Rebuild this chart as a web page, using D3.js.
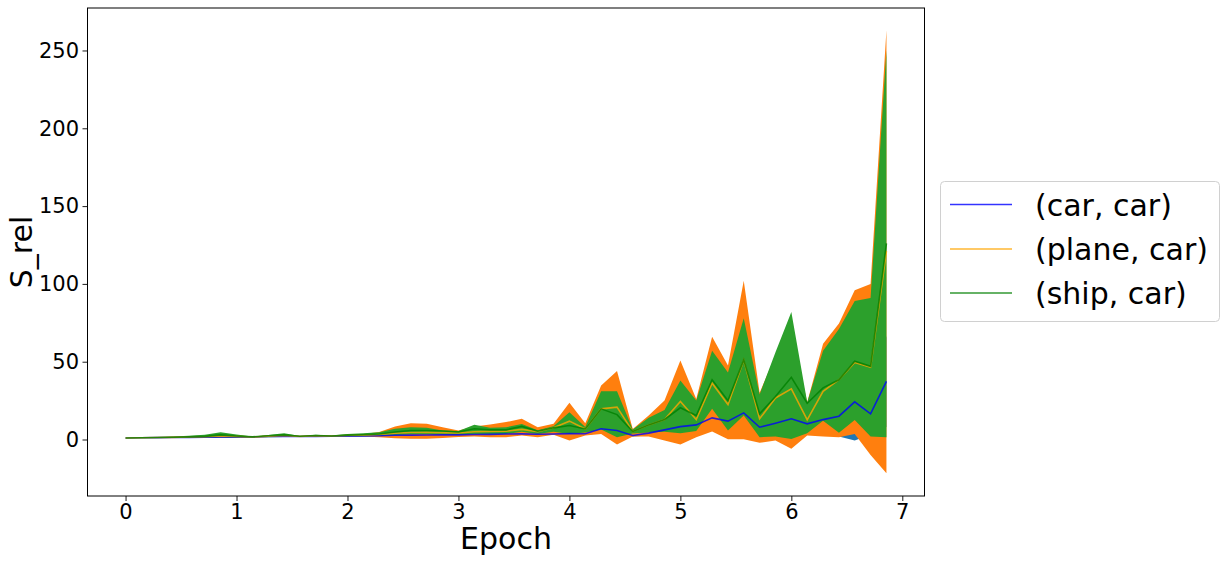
<!DOCTYPE html>
<html>
<head>
<meta charset="utf-8">
<script src="https://d3js.org/d3.v7.min.js"></script>
<style>
  body { margin: 0; background: #fff; }
  text { font-family: "DejaVu Sans", sans-serif; }
</style>
</head>
<body>
<script>
// epochs (7 measurements per epoch)
var epochs = [0, 0.143, 0.286, 0.429, 0.571, 0.714, 0.857,
              1, 1.143, 1.286, 1.429, 1.571, 1.714, 1.857,
              2, 2.143, 2.286, 2.429, 2.571, 2.714, 2.857,
              3, 3.143, 3.286, 3.429, 3.571, 3.714, 3.857,
              4, 4.143, 4.286, 4.429, 4.571, 4.714, 4.857,
              5, 5.143, 5.286, 5.429, 5.571, 5.714, 5.857,
              6, 6.143, 6.286, 6.429, 6.571, 6.714, 6.857];

// (car, car)
var carMean = [1.0, 1.1, 1.2, 1.3, 1.4, 1.5, 1.6,
               1.7, 1.6, 1.9, 2.0, 1.9, 2.0, 2.1,
               2.2, 2.3, 2.5, 2.7, 2.8, 2.9, 3.0,
               3.0, 3.2, 3.3, 3.5, 3.6, 3.4, 3.5,
               3.8, 3.7, 6.9, 5.8, 2.6, 4.1, 6.2,
               8.3, 9.4, 13.9, 11.8, 17.1, 7.9, 10.5,
               13.3, 10.1, 12.8, 15.0, 24.2, 16.5, 37.3];
var carLow = [1.0, 1.05, 1.1, 1.15, 1.2, 1.3, 1.4,
              1.5, 1.45, 1.7, 1.85, 1.75, 1.9, 2.0,
              2.1, 2.1, 2.2, 2.3, 2.4, 2.5, 2.6,
              2.6, 2.8, 2.9, 3.0, 3.0, 2.9, 3.1,
              3.0, 3.0, 4.0, 3.0, 2.0, 2.5, 3.0,
              3.0, 4.0, 6.0, 4.0, 6.0, 2.0, 3.0,
              2.0, 3.0, 4.0, 2.0, -0.6, 3.0, 8.0];
var carHigh = [1.0, 1.15, 1.3, 1.45, 1.6, 1.7, 1.8,
               1.9, 1.75, 2.1, 2.2, 2.05, 2.2, 2.3,
               2.4, 2.5, 2.8, 3.1, 3.2, 3.3, 3.4,
               3.4, 3.6, 3.7, 4.0, 4.2, 3.9, 3.9,
               4.6, 4.4, 9.0, 8.6, 3.2, 5.7, 9.4,
               13.6, 14.8, 21.8, 19.6, 28.2, 13.8, 18.0,
               24.6, 17.2, 21.6, 28.0, 49.0, 30.0, 66.6];

// (plane, car)
var planeMean = [1.0, 1.1, 1.3, 1.4, 1.6, 1.8, 2.3,
                 2.0, 1.6, 2.2, 2.6, 2.0, 2.4, 2.3,
                 2.6, 2.8, 3.2, 4.0, 4.5, 4.6, 4.4,
                 4.2, 5.0, 5.2, 5.3, 6.5, 5.0, 7.5,
                 11.8, 6.8, 19.7, 20.8, 5.1, 9.4, 12.9,
                 24.4, 12.9, 36.2, 22.5, 51.0, 13.3, 26.7,
                 32.6, 12.6, 31.0, 38.4, 49.5, 46.5, 121.0];
var planeLow = [1.0, 1.0, 1.0, 1.0, 1.1, 1.1, 1.1,
                1.2, 1.4, 1.6, 1.8, 1.7, 1.9, 2.0,
                2.1, 2.0, 1.5, 0.8, 0.5, 0.5, 1.0,
                1.6, 2.0, 1.5, 1.5, 2.6, 1.5, 3.0,
                -0.6, 2.6, 3.5, -3.2, 1.9, 1.9, -0.6,
                -3.2, 1.5, 5.1, 0.1, 0.1, -2.1, -0.6,
                -6.0, 2.6, 2.0, 1.5, 3.5, -10.0, -21.6];
var planeHigh = [1.0, 1.2, 1.5, 1.8, 2.1, 2.5, 3.5,
                 2.8, 1.8, 2.6, 3.2, 2.1, 2.8, 2.4,
                 3.0, 3.6, 4.8, 8.4, 10.5, 10.1, 7.9,
                 5.8, 8.4, 9.7, 11.2, 13.3, 7.9, 10.1,
                 23.6, 10.5, 34.7, 44.0, 6.8, 15.4, 25.0,
                 50.8, 26.0, 66.0, 47.6, 102.0, 30.0, 54.0,
                 70.0, 24.0, 61.5, 74.5, 96.0, 100.0, 263.0];

// (ship, car)
var shipMean = [1.0, 1.15, 1.3, 1.5, 1.7, 2.0, 3.0,
                2.3, 1.7, 2.4, 3.0, 2.1, 2.6, 2.3,
                2.8, 3.1, 3.5, 4.8, 5.8, 5.8, 5.5,
                4.8, 6.9, 6.2, 6.2, 8.4, 5.3, 7.5,
                9.0, 6.8, 19.7, 16.0, 5.1, 9.4, 12.9,
                20.4, 15.4, 38.4, 25.0, 51.2, 16.5, 27.6,
                40.0, 23.3, 33.2, 38.4, 50.3, 47.0, 126.0];
var shipLow = [1.0, 1.0, 1.0, 1.0, 1.0, 1.0, 1.3,
               1.2, 1.3, 1.4, 1.6, 1.6, 1.8, 2.0,
               2.0, 2.1, 2.3, 2.7, 3.4, 3.4, 3.3,
               3.0, 3.5, 3.4, 3.6, 5.0, 3.5, 5.0,
               3.5, 4.5, 6.5, 1.5, 3.8, 4.5, 5.0,
               4.0, 5.5, 19.7, 5.8, 15.4, 1.5, 2.0,
               0.4, 4.0, 12.0, 4.3, 12.6, 1.9, 1.5];
var shipHigh = [1.0, 1.3, 1.6, 2.0, 2.4, 3.0, 4.7,
                3.3, 1.9, 2.9, 4.1, 2.2, 3.1, 2.5,
                3.6, 4.0, 4.7, 6.9, 7.9, 7.5, 5.8,
                5.4, 9.5, 7.5, 7.9, 10.0, 6.0, 8.5,
                17.6, 8.0, 31.0, 31.0, 6.5, 14.0, 19.0,
                38.0, 25.0, 57.0, 43.0, 78.0, 29.0, 56.0,
                82.0, 24.0, 57.0, 71.0, 89.0, 91.0, 250.0];

var xTicks = [0, 1, 2, 3, 4, 5, 6, 7];
var yTicks = [0, 50, 100, 150, 200, 250];

var series = [
  { name: "(car, car)",   mean: carMean,   low: carLow,   high: carHigh,   fill: "#1f77b4", line: "blue" },
  { name: "(plane, car)", mean: planeMean, low: planeLow, high: planeHigh, fill: "#ff7f0e", line: "orange" },
  { name: "(ship, car)",  mean: shipMean,  low: shipLow,  high: shipHigh,  fill: "#2ca02c", line: "green" }
];

var W = 1227, H = 562;
var pLeft = 87.5, pRight = 924.5, pTop = 8, pBottom = 496;

var svg = d3.select("body").append("svg")
    .attr("width", W).attr("height", H);

var x = d3.scaleLinear().domain([-0.343, 7.2]).range([pLeft, pRight]);
var y = d3.scaleLinear().domain([-36.3, 277.3]).range([pBottom, pTop]);

var idx = d3.range(epochs.length);

// fills first (matplotlib puts PolyCollections under lines)
series.forEach(function(s) {
  var area = d3.area()
      .x(function(i) { return x(epochs[i]); })
      .y0(function(i) { return y(s.low[i]); })
      .y1(function(i) { return y(s.high[i]); });
  svg.append("path")
      .datum(idx)
      .attr("d", area)
      .attr("fill", s.fill);
});

series.forEach(function(s) {
  var line = d3.line()
      .x(function(i) { return x(epochs[i]); })
      .y(function(i) { return y(s.mean[i]); });
  svg.append("path")
      .datum(idx)
      .attr("d", line)
      .attr("fill", "none")
      .attr("stroke", s.line)
      .attr("stroke-opacity", 0.8)
      .attr("stroke-width", 1.6);
});

// axes
var xAxis = svg.append("g")
    .attr("transform", "translate(0," + pBottom + ")")
    .call(d3.axisBottom(x).tickValues(xTicks).tickSize(5).tickPadding(3.5));
var yAxis = svg.append("g")
    .attr("transform", "translate(" + pLeft + ",0)")
    .call(d3.axisLeft(y).tickValues(yTicks).tickSize(5).tickPadding(3.5));
[xAxis, yAxis].forEach(function(a) {
  a.attr("font-size", 21).attr("font-family", "DejaVu Sans");
  a.select(".domain").remove();
  a.selectAll("text").attr("fill", "#000");
  a.selectAll("line").attr("stroke", "#000").attr("stroke-width", 0.9);
});

svg.append("rect")
    .attr("x", pLeft).attr("y", pTop)
    .attr("width", pRight - pLeft).attr("height", pBottom - pTop)
    .attr("fill", "none").attr("stroke", "#000").attr("stroke-width", 1);

svg.append("text")
    .attr("x", (pLeft + pRight) / 2).attr("y", 549)
    .attr("text-anchor", "middle")
    .attr("font-size", 30)
    .text("Epoch");
svg.append("text")
    .attr("transform", "translate(32," + (pTop + pBottom) / 2 + ")rotate(-90)")
    .attr("text-anchor", "middle")
    .attr("font-size", 30)
    .text("S_rel");

// legend
var lg = svg.append("g");
lg.append("rect")
    .attr("x", 940.5).attr("y", 181.5)
    .attr("width", 279).attr("height", 140)
    .attr("rx", 4)
    .attr("fill", "#fff").attr("fill-opacity", 0.8)
    .attr("stroke", "#d0d0d0");
var rowY = [204.5, 249, 293];
series.forEach(function(s, k) {
  lg.append("line")
      .attr("x1", 950).attr("x2", 1012)
      .attr("y1", rowY[k]).attr("y2", rowY[k])
      .attr("stroke", s.line).attr("stroke-opacity", 0.8)
      .attr("stroke-width", 1.6);
  lg.append("text")
      .attr("x", 1035).attr("y", rowY[k] + 11)
      .attr("font-size", 30)
      .text(s.name);
});
</script>
</body>
</html>
